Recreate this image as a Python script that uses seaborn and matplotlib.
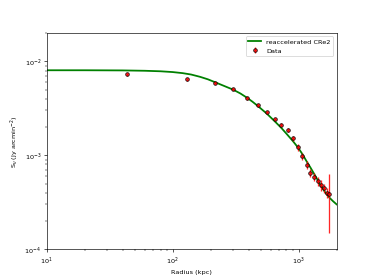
import numpy as np
import pandas as pd
import matplotlib
matplotlib.use("Agg")
import matplotlib.pyplot as plt
import seaborn as sns

# data points
radius = [43, 130, 217, 302, 388, 474, 558, 646, 730, 818, 902, 988,
          1070, 1157, 1237, 1321, 1413, 1500, 1585, 1665, 1749]
flux = [7.27e-3, 6.44e-3, 5.83e-3, 5.03e-3, 4.03e-3, 3.40e-3, 2.86e-3,
        2.43e-3, 2.12e-3, 1.85e-3, 1.52e-3, 1.22e-3, 9.8e-4, 7.96e-4,
        6.5e-4, 5.87e-4, 5.33e-4, 4.80e-4, 4.46e-4, 3.97e-4, 3.87e-4]
flux_err = [2.5e-4, 1.8e-4, 1.5e-4, 1.3e-4, 1.2e-4, 1.1e-4, 1.0e-4,
            9e-5, 9e-5, 9e-5, 9e-5, 1.0e-4, 9e-5, 8e-5,
            7e-5, 6e-5, 6e-5, 6e-5, 5e-5, 5e-5, 2.4e-4]

# model curve (reaccelerated CRe2)
model_r = [10, 20, 40, 60, 80, 100, 120, 140, 165, 190, 217, 250, 302,
           345, 388, 430, 474, 558, 646, 730, 818, 902, 988, 1070, 1157,
           1240, 1321, 1410, 1500, 1620, 1749, 1870, 2000]
model_s = [8.05e-3, 8.05e-3, 8.02e-3, 7.95e-3, 7.85e-3, 7.7e-3, 7.5e-3,
           7.25e-3, 6.85e-3, 6.45e-3, 6.0e-3, 5.55e-3, 5.0e-3,
           4.55e-3, 4.11e-3, 3.72e-3, 3.35e-3, 2.78e-3, 2.30e-3, 1.95e-3,
           1.64e-3, 1.41e-3, 1.21e-3, 1.03e-3, 8.6e-4,
           7.4e-4, 6.4e-4, 5.5e-4, 4.7e-4, 4.05e-4, 3.55e-4, 3.25e-4, 3.0e-4]

model = pd.DataFrame({"r": model_r, "s": model_s})

plt.rcParams["font.size"] = 8

fig, ax = plt.subplots(figsize=(6.4, 4.8), dpi=374 / 6.4)
sns.lineplot(data=model, x="r", y="s", color="green", lw=2.2,
             label="reaccelerated CRe2", ax=ax)
ax.errorbar(radius, flux, yerr=flux_err, fmt="o", color="red", ecolor="red",
            mec="black", ms=4.5, elinewidth=1.6, alpha=0.85, label="Data",
            zorder=3)

ax.set_xscale("log")
ax.set_yscale("log")
ax.set_xlim(10, 2000)
ax.set_ylim(1e-4, 2e-2)
ax.set_xlabel("Radius (kpc)")
ax.set_ylabel(r"S$_\nu$ (Jy arcmin$^{-2}$)")
ax.legend(loc="upper right")

fig.savefig("out.png", dpi=374 / 6.4)
